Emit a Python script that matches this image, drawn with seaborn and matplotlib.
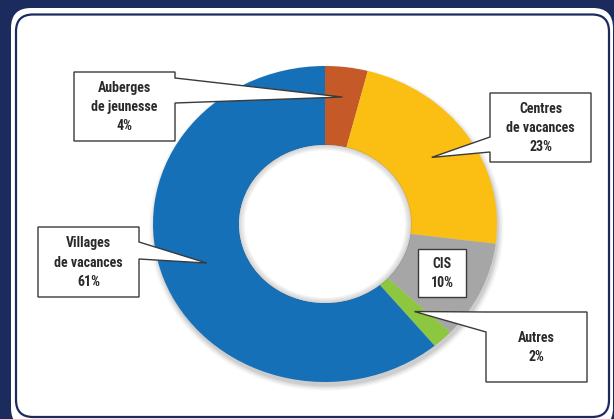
import numpy as np
import matplotlib
matplotlib.use("Agg")
import matplotlib.pyplot as plt
from matplotlib.patches import FancyBboxPatch, Polygon, Ellipse
import seaborn as sns

# ---------------- data ----------------
categories = ["Auberges\nde jeunesse", "Centres\nde vacances", "CIS", "Autres", "Villages\nde vacances"]
values = [4, 23, 10, 2, 61]
colors = ["#c55a28", "#fbbf13", "#a6a6a6", "#8dc63f", "#1570b8"]

sns.set_theme(style="white")
plt.rcParams["font.family"] = ["Roboto Condensed", "DejaVu Sans"]

W, H = 614, 419
NAVY = "#1c2b5e"
fig = plt.figure(figsize=(W / 100, H / 100), dpi=100, facecolor=NAVY)

# ---------------- background panel (pixel coords, y down) ----------------
bg = fig.add_axes([0, 0, 1, 1], zorder=0)
bg.set_xlim(0, W)
bg.set_ylim(H, 0)
bg.axis("off")
bg.add_patch(FancyBboxPatch((11, 8), 602, 420, boxstyle="round,pad=0,rounding_size=20",
                            facecolor="white", edgecolor="none"))
bg.add_patch(FancyBboxPatch((16, 14.5), 593, 402.5, boxstyle="round,pad=0,rounding_size=17",
                            facecolor="white", edgecolor=NAVY, linewidth=1.6))

# ---------------- donut ----------------
cx, cy, rx, ry = 325, 224, 172, 158
pax = fig.add_axes([(cx - rx) / W, 1 - (cy + ry) / H, 2 * rx / W, 2 * ry / H], zorder=1)
pax.patch.set_alpha(0)

# soft shadow
for k, a in enumerate([0.04, 0.06, 0.08, 0.10]):
    r = 1.03 - 0.009 * k
    pax.add_patch(Ellipse((0.008, -0.025), 2 * r, 2 * r, facecolor="#404040",
                          edgecolor="none", alpha=a, clip_on=False))

wedges, _ = pax.pie(values, colors=colors, startangle=90, counterclock=False,
                    wedgeprops=dict(width=0.5, edgecolor="none", linewidth=0))
for w in wedges:
    w.set_clip_on(False)
pax.add_patch(Ellipse((0, 0), 1.0, 1.0, facecolor="white", edgecolor="none", zorder=3))
# inner shadow of the hole
for k in range(6):
    r = 0.5 - 0.006 * k
    pax.add_patch(Ellipse((0, 0), 2 * r, 2 * r, facecolor="none", edgecolor="#505050",
                          linewidth=1.2, alpha=0.16 - 0.025 * k, zorder=4))
pax.set_xlim(-1, 1)
pax.set_ylim(-1, 1)
pax.set_aspect("auto")
pax.axis("off")

# ---------------- callouts (pixel coords) ----------------
ov = fig.add_axes([0, 0, 1, 1], zorder=2)
ov.set_xlim(0, W)
ov.set_ylim(H, 0)
ov.axis("off")
ov.patch.set_alpha(0)

fracs = np.array(values) / sum(values)
ends = 90 - 360 * np.cumsum(fracs)
starts = ends + 360 * fracs
mids = np.deg2rad((starts + ends) / 2)
pcts = [f"{v}%" for v in values]

# box (x0, y0, x1, y1), pointer side, pointer y-range, tip radius
boxes = [
    ((74, 72, 175, 141), "right", (78, 103), 0.81),
    ((490, 93, 591, 162), "left", (137, 152), 0.75),
    ((418, 249, 466, 297), None, None, None),
    ((486, 312, 587, 382), "left", (312, 332), 0.76),
    ((38, 227, 139, 297), "right", (242, 259), 0.73),
]

for i, (cat, (box, side, yr, rt)) in enumerate(zip(categories, boxes)):
    x0, y0, x1, y1 = box
    if side is None:
        verts = [(x0, y0), (x1, y0), (x1, y1), (x0, y1)]
    else:
        tx = cx + rx * rt * np.cos(mids[i])
        ty = cy - ry * rt * np.sin(mids[i])
        ya, yb = yr
        if side == "right":
            verts = [(x0, y0), (x1, y0), (x1, ya), (tx, ty), (x1, yb), (x1, y1), (x0, y1)]
        else:
            verts = [(x0, y0), (x1, y0), (x1, y1), (x0, y1), (x0, yb), (tx, ty), (x0, ya)]
    ov.add_patch(Polygon(verts, closed=True, facecolor="white", edgecolor="#3a3a3a",
                         linewidth=1.0, joinstyle="miter"))
    ov.text((x0 + x1) / 2, (y0 + y1) / 2 + 0.5, f"{cat}\n{pcts[i]}", ha="center", va="center",
            fontsize=10, fontweight="bold", color="#2a2a2a", linespacing=1.47)

fig.savefig("out.png", dpi=100, facecolor=NAVY)
